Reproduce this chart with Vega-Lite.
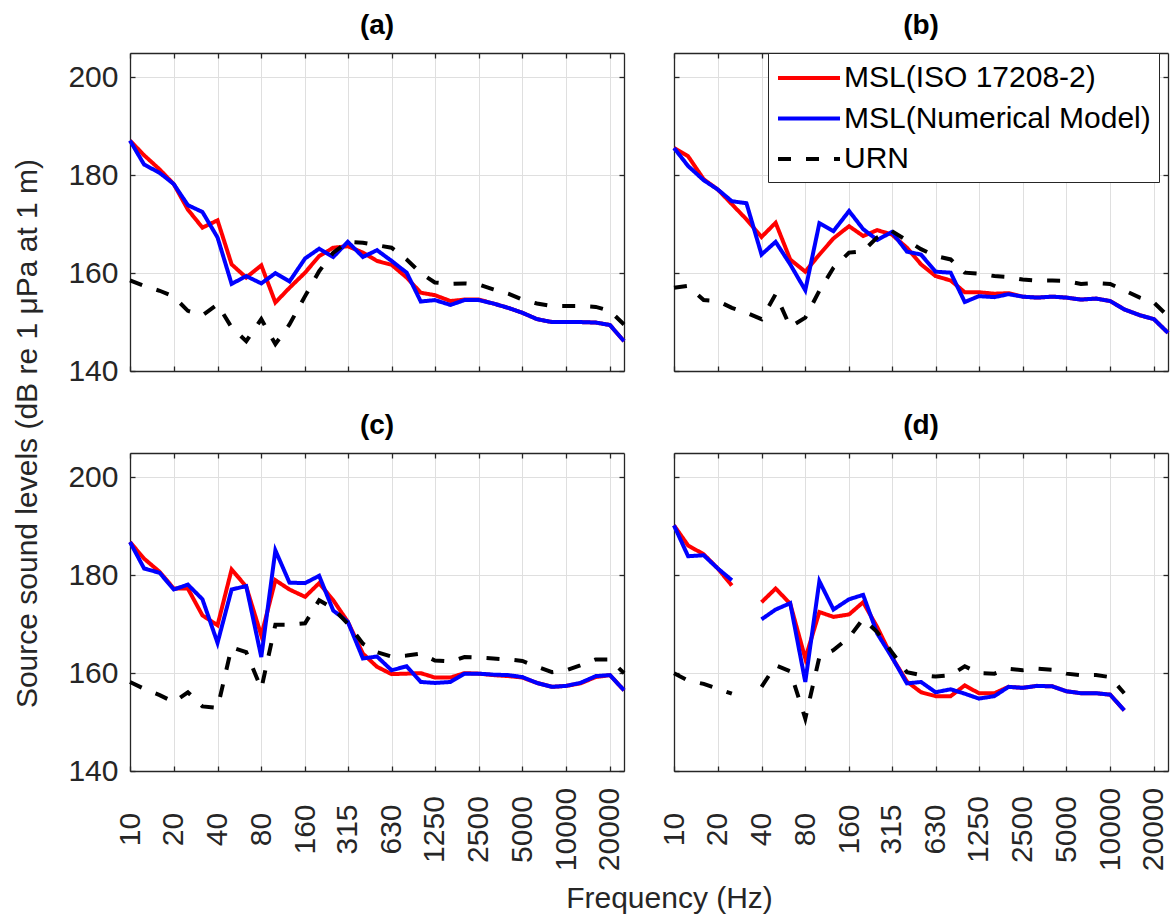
{
  "$schema": "https://vega.github.io/schema/vega-lite/v6.json",
  "background": "white",
  "padding": {"left": 11, "top": 12, "right": 4, "bottom": 4},
  "data": {"values": [
    {"panel":"a","freq":10,"iso":187.1,"model":187.1,"urn":158.5},
    {"panel":"a","freq":12.5,"iso":184.1,"model":182.2,"urn":157.4},
    {"panel":"a","freq":16,"iso":181.2,"model":180.5,"urn":156.4},
    {"panel":"a","freq":20,"iso":178.2,"model":178.2,"urn":155.2},
    {"panel":"a","freq":25,"iso":173.0,"model":173.9,"urn":152.3},
    {"panel":"a","freq":31.5,"iso":169.3,"model":172.5,"urn":151.4},
    {"panel":"a","freq":40,"iso":170.8,"model":167.3,"urn":153.6},
    {"panel":"a","freq":50,"iso":161.8,"model":157.8,"urn":148.9},
    {"panel":"a","freq":63,"iso":159.1,"model":159.4,"urn":146.1},
    {"panel":"a","freq":80,"iso":161.6,"model":157.9,"urn":150.6},
    {"panel":"a","freq":100,"iso":154.0,"model":160.0,"urn":145.5},
    {"panel":"a","freq":125,"iso":157.0,"model":158.3,"urn":149.5},
    {"panel":"a","freq":160,"iso":160.1,"model":163.0,"urn":155.3},
    {"panel":"a","freq":200,"iso":163.5,"model":165.0,"urn":160.4},
    {"panel":"a","freq":250,"iso":165.2,"model":163.3,"urn":164.2},
    {"panel":"a","freq":315,"iso":165.5,"model":166.4,"urn":166.4},
    {"panel":"a","freq":400,"iso":164.2,"model":163.3,"urn":166.2},
    {"panel":"a","freq":500,"iso":162.5,"model":164.7,"urn":165.7},
    {"panel":"a","freq":630,"iso":161.7,"model":162.5,"urn":165.2},
    {"panel":"a","freq":800,"iso":159.1,"model":160.1,"urn":162.8},
    {"panel":"a","freq":1000,"iso":156.0,"model":154.2,"urn":160.0},
    {"panel":"a","freq":1250,"iso":155.5,"model":154.5,"urn":158.1},
    {"panel":"a","freq":1600,"iso":154.3,"model":153.5,"urn":157.8},
    {"panel":"a","freq":2000,"iso":154.6,"model":154.5,"urn":157.9},
    {"panel":"a","freq":2500,"iso":154.6,"model":154.5,"urn":157.7},
    {"panel":"a","freq":3150,"iso":153.8,"model":153.8,"urn":156.7},
    {"panel":"a","freq":4000,"iso":152.9,"model":152.9,"urn":155.8},
    {"panel":"a","freq":5000,"iso":151.9,"model":151.9,"urn":154.6},
    {"panel":"a","freq":6300,"iso":150.6,"model":150.6,"urn":153.8},
    {"panel":"a","freq":8000,"iso":150.0,"model":150.0,"urn":153.3},
    {"panel":"a","freq":10000,"iso":150.0,"model":150.0,"urn":153.3},
    {"panel":"a","freq":12500,"iso":150.0,"model":150.0,"urn":153.3},
    {"panel":"a","freq":16000,"iso":149.9,"model":149.9,"urn":153.1},
    {"panel":"a","freq":20000,"iso":149.4,"model":149.4,"urn":152.3},
    {"panel":"a","freq":25000,"iso":146.1,"model":146.1,"urn":149.5},

    {"panel":"b","freq":10,"iso":185.6,"model":185.6,"urn":157.0},
    {"panel":"b","freq":12.5,"iso":183.9,"model":181.9,"urn":157.4},
    {"panel":"b","freq":16,"iso":179.2,"model":179.0,"urn":154.5},
    {"panel":"b","freq":20,"iso":177.1,"model":177.1,"urn":154.3},
    {"panel":"b","freq":25,"iso":174.1,"model":174.7,"urn":152.9},
    {"panel":"b","freq":31.5,"iso":171.0,"model":174.3,"urn":151.9},
    {"panel":"b","freq":40,"iso":167.4,"model":163.8,"urn":150.6},
    {"panel":"b","freq":50,"iso":170.3,"model":166.4,"urn":155.7},
    {"panel":"b","freq":63,"iso":162.8,"model":161.8,"urn":149.0},
    {"panel":"b","freq":80,"iso":160.3,"model":156.5,"urn":150.9},
    {"panel":"b","freq":100,"iso":163.8,"model":170.2,"urn":156.4},
    {"panel":"b","freq":125,"iso":167.1,"model":168.6,"urn":161.1},
    {"panel":"b","freq":160,"iso":169.6,"model":172.7,"urn":164.2},
    {"panel":"b","freq":200,"iso":167.6,"model":169.0,"urn":164.5},
    {"panel":"b","freq":250,"iso":168.8,"model":166.8,"urn":167.3},
    {"panel":"b","freq":315,"iso":167.9,"model":168.4,"urn":168.6},
    {"panel":"b","freq":400,"iso":165.2,"model":164.4,"urn":166.7},
    {"panel":"b","freq":500,"iso":161.8,"model":163.8,"urn":164.9},
    {"panel":"b","freq":630,"iso":159.4,"model":160.3,"urn":163.5},
    {"panel":"b","freq":800,"iso":158.5,"model":160.1,"urn":162.8},
    {"panel":"b","freq":1000,"iso":156.1,"model":154.1,"urn":160.1},
    {"panel":"b","freq":1250,"iso":156.1,"model":155.3,"urn":159.9},
    {"panel":"b","freq":1600,"iso":155.8,"model":155.1,"urn":159.4},
    {"panel":"b","freq":2000,"iso":155.9,"model":155.7,"urn":159.2},
    {"panel":"b","freq":2500,"iso":155.2,"model":155.2,"urn":158.7},
    {"panel":"b","freq":3150,"iso":155.0,"model":155.0,"urn":158.5},
    {"panel":"b","freq":4000,"iso":155.2,"model":155.2,"urn":158.5},
    {"panel":"b","freq":5000,"iso":155.0,"model":155.0,"urn":158.4},
    {"panel":"b","freq":6300,"iso":154.6,"model":154.6,"urn":157.8},
    {"panel":"b","freq":8000,"iso":154.8,"model":154.8,"urn":158.0},
    {"panel":"b","freq":10000,"iso":154.3,"model":154.3,"urn":157.8},
    {"panel":"b","freq":12500,"iso":152.6,"model":152.6,"urn":156.5},
    {"panel":"b","freq":16000,"iso":151.4,"model":151.4,"urn":155.0},
    {"panel":"b","freq":20000,"iso":150.6,"model":150.6,"urn":154.0},
    {"panel":"b","freq":25000,"iso":147.8,"model":147.8,"urn":151.2},

    {"panel":"c","freq":10,"iso":186.8,"model":186.8,"urn":158.2},
    {"panel":"c","freq":12.5,"iso":183.4,"model":181.4,"urn":156.8},
    {"panel":"c","freq":16,"iso":180.7,"model":180.5,"urn":155.5},
    {"panel":"c","freq":20,"iso":177.3,"model":177.1,"urn":154.1},
    {"panel":"c","freq":25,"iso":177.3,"model":178.1,"urn":156.1},
    {"panel":"c","freq":31.5,"iso":171.8,"model":175.1,"urn":153.2},
    {"panel":"c","freq":40,"iso":169.8,"model":166.2,"urn":152.9},
    {"panel":"c","freq":50,"iso":181.2,"model":177.1,"urn":165.3},
    {"panel":"c","freq":63,"iso":177.7,"model":177.8,"urn":164.3},
    {"panel":"c","freq":80,"iso":167.7,"model":163.3,"urn":156.8},
    {"panel":"c","freq":100,"iso":179.0,"model":185.1,"urn":169.9},
    {"panel":"c","freq":125,"iso":177.1,"model":178.5,"urn":169.9},
    {"panel":"c","freq":160,"iso":175.6,"model":178.4,"urn":170.2},
    {"panel":"c","freq":200,"iso":178.4,"model":179.9,"urn":174.9},
    {"panel":"c","freq":250,"iso":174.9,"model":172.8,"urn":173.2},
    {"panel":"c","freq":315,"iso":170.5,"model":170.5,"urn":170.1},
    {"panel":"c","freq":400,"iso":164.0,"model":163.0,"urn":166.0},
    {"panel":"c","freq":500,"iso":161.3,"model":163.4,"urn":164.3},
    {"panel":"c","freq":630,"iso":159.8,"model":160.6,"urn":163.4},
    {"panel":"c","freq":800,"iso":159.9,"model":161.4,"urn":163.6},
    {"panel":"c","freq":1000,"iso":160.0,"model":158.2,"urn":164.0},
    {"panel":"c","freq":1250,"iso":159.1,"model":158.0,"urn":162.6},
    {"panel":"c","freq":1600,"iso":159.1,"model":158.2,"urn":162.4},
    {"panel":"c","freq":2000,"iso":160.0,"model":159.9,"urn":163.3},
    {"panel":"c","freq":2500,"iso":159.9,"model":159.9,"urn":163.2},
    {"panel":"c","freq":3150,"iso":159.6,"model":159.7,"urn":163.0},
    {"panel":"c","freq":4000,"iso":159.4,"model":159.6,"urn":162.8},
    {"panel":"c","freq":5000,"iso":159.1,"model":159.2,"urn":162.5},
    {"panel":"c","freq":6300,"iso":158.0,"model":158.0,"urn":161.3},
    {"panel":"c","freq":8000,"iso":157.2,"model":157.2,"urn":160.2},
    {"panel":"c","freq":10000,"iso":157.4,"model":157.4,"urn":160.6},
    {"panel":"c","freq":12500,"iso":157.9,"model":158.0,"urn":161.6},
    {"panel":"c","freq":16000,"iso":159.2,"model":159.4,"urn":162.8},
    {"panel":"c","freq":20000,"iso":159.6,"model":159.6,"urn":162.8},
    {"panel":"c","freq":25000,"iso":156.5,"model":156.5,"urn":160.0},

    {"panel":"d","freq":10,"iso":190.2,"model":190.2,"urn":160.0},
    {"panel":"d","freq":12.5,"iso":186.1,"model":183.9,"urn":158.5},
    {"panel":"d","freq":16,"iso":184.3,"model":184.1,"urn":157.8},
    {"panel":"d","freq":20,"iso":181.4,"model":181.4,"urn":156.8},
    {"panel":"d","freq":25,"iso":177.9,"model":179.0,"urn":155.8},
    {"panel":"d","freq":31.5,"iso":null,"model":null,"urn":null},
    {"panel":"d","freq":40,"iso":174.5,"model":171.0,"urn":157.2},
    {"panel":"d","freq":50,"iso":177.3,"model":173.0,"urn":161.6},
    {"panel":"d","freq":63,"iso":174.2,"model":174.3,"urn":160.4},
    {"panel":"d","freq":80,"iso":163.0,"model":158.2,"urn":150.7},
    {"panel":"d","freq":100,"iso":172.5,"model":178.8,"urn":163.3},
    {"panel":"d","freq":125,"iso":171.5,"model":173.0,"urn":164.7},
    {"panel":"d","freq":160,"iso":172.0,"model":175.1,"urn":167.3},
    {"panel":"d","freq":200,"iso":174.5,"model":176.0,"urn":171.1},
    {"panel":"d","freq":250,"iso":169.4,"model":168.1,"urn":168.4},
    {"panel":"d","freq":315,"iso":163.3,"model":163.3,"urn":164.3},
    {"panel":"d","freq":400,"iso":158.3,"model":157.9,"urn":160.2},
    {"panel":"d","freq":500,"iso":156.1,"model":158.2,"urn":159.6},
    {"panel":"d","freq":630,"iso":155.3,"model":156.1,"urn":159.3},
    {"panel":"d","freq":800,"iso":155.3,"model":156.7,"urn":159.6},
    {"panel":"d","freq":1000,"iso":157.5,"model":155.8,"urn":161.4},
    {"panel":"d","freq":1250,"iso":155.9,"model":154.8,"urn":160.0},
    {"panel":"d","freq":1600,"iso":155.9,"model":155.3,"urn":159.9},
    {"panel":"d","freq":2000,"iso":157.2,"model":157.2,"urn":160.9},
    {"panel":"d","freq":2500,"iso":157.0,"model":157.0,"urn":160.6},
    {"panel":"d","freq":3150,"iso":157.4,"model":157.4,"urn":160.9},
    {"panel":"d","freq":4000,"iso":157.3,"model":157.3,"urn":160.7},
    {"panel":"d","freq":5000,"iso":156.3,"model":156.3,"urn":159.9},
    {"panel":"d","freq":6300,"iso":155.9,"model":155.9,"urn":159.6},
    {"panel":"d","freq":8000,"iso":155.9,"model":155.9,"urn":159.6},
    {"panel":"d","freq":10000,"iso":155.6,"model":155.6,"urn":159.2},
    {"panel":"d","freq":12500,"iso":152.4,"model":152.4,"urn":155.9},
    {"panel":"d","freq":16000,"iso":null,"model":null,"urn":null},
    {"panel":"d","freq":20000,"iso":null,"model":null,"urn":null},
    {"panel":"d","freq":25000,"iso":null,"model":null,"urn":null}
  ]},
  "columns": 2,
  "spacing": {"row": 82, "column": 50},
  "bounds": "flush",
  "resolve": {"legend": {"color": "independent", "strokeDash": "independent"}},
  "concat": [
    {
      "title": {"text": "(a)"},
      "width": 494, "height": 318,
      "transform": [{"filter": "datum.panel === 'a'"}, {"fold": ["iso", "model", "urn"], "as": ["series", "level"]}],
      "layer": [
        {
          "mark": {"type": "line", "strokeWidth": 4, "invalid": "break-paths-show-domains"},
          "encoding": {
            "x": {"field": "freq", "type": "quantitative", "scale": {"type": "log", "domain": [10, 25000], "nice": false},
                  "axis": {"orient": "bottom", "values": [10, 20, 40, 80, 160, 315, 630, 1250, 2500, 5000, 10000, 20000], "labels": false, "grid": true, "title": null}},
            "y": {"field": "level", "type": "quantitative", "scale": {"domain": [140, 205], "nice": false, "zero": false},
                  "axis": {"orient": "left", "values": [140, 160, 180, 200], "grid": true, "format": "d", "labelPadding": 17,
                           "title": "Source sound levels (dB re 1 μPa at 1 m)", "titleX": -94, "titleY": 380, "titleAngle": 270, "titleAlign": "center", "titleBaseline": "alphabetic"}},
            "color": {"field": "series", "type": "nominal", "scale": {"domain": ["iso", "model", "urn"], "range": ["#ff0000", "#0000ff", "#000000"]}, "legend": null},
            "strokeDash": {"field": "series", "type": "nominal", "scale": {"domain": ["iso", "model", "urn"], "range": [[1, 0], [1, 0], [13, 15]]}, "legend": null}
          }
        },
        {
          "mark": {"type": "line", "strokeOpacity": 0},
          "encoding": {
            "x": {"field": "freq", "type": "quantitative", "axis": {"orient": "top", "values": [10, 20, 40, 80, 160, 315, 630, 1250, 2500, 5000, 10000, 20000], "labels": false, "grid": false, "title": null}},
            "y": {"field": "level", "type": "quantitative", "axis": {"orient": "right", "values": [140, 160, 180, 200], "labels": false, "grid": false, "title": null}}
          }
        }
      ],
      "resolve": {"axis": {"x": "independent", "y": "independent"}}
    },
    {
      "title": {"text": "(b)"},
      "width": 494, "height": 318,
      "transform": [{"filter": "datum.panel === 'b'"}, {"fold": ["iso", "model", "urn"], "as": ["series", "level"]}],
      "layer": [
        {
          "mark": {"type": "line", "strokeWidth": 4, "invalid": "break-paths-show-domains"},
          "encoding": {
            "x": {"field": "freq", "type": "quantitative", "scale": {"type": "log", "domain": [10, 25000], "nice": false},
                  "axis": {"orient": "bottom", "values": [10, 20, 40, 80, 160, 315, 630, 1250, 2500, 5000, 10000, 20000], "labels": false, "grid": true, "title": null}},
            "y": {"field": "level", "type": "quantitative", "scale": {"domain": [140, 205], "nice": false, "zero": false},
                  "axis": {"orient": "left", "values": [140, 160, 180, 200], "grid": true, "labels": false, "title": null}},
            "color": {"field": "series", "type": "nominal", "scale": {"domain": ["iso", "model", "urn"], "range": ["#ff0000", "#0000ff", "#000000"]},
                      "legend": {"orient": "none", "legendX": 94, "legendY": 0, "title": null, "symbolType": "M-1,0H3.133", "symbolSize": 900, "symbolStrokeWidth": 4,
                                 "labelFontSize": 30, "labelColor": "#000000", "labelOffset": 34, "labelLimit": 0, "padding": 8, "rowPadding": 8.5,
                                 "strokeColor": "#262626", "fillColor": "#ffffff", "cornerRadius": 0,
                                 "labelExpr": "datum.label === 'iso' ? 'MSL(ISO 17208-2)' : datum.label === 'model' ? 'MSL(Numerical Model)' : 'URN'"}},
            "strokeDash": {"field": "series", "type": "nominal", "scale": {"domain": ["iso", "model", "urn"], "range": [[1, 0], [1, 0], [13, 15]]},
                      "legend": {"orient": "none", "legendX": 94, "legendY": 0, "title": null, "symbolType": "M-1,0H3.133", "symbolSize": 900, "symbolStrokeWidth": 4,
                                 "labelFontSize": 30, "labelColor": "#000000", "labelOffset": 34, "labelLimit": 0, "padding": 8, "rowPadding": 8.5,
                                 "strokeColor": "#262626", "fillColor": "#ffffff", "cornerRadius": 0,
                                 "labelExpr": "datum.label === 'iso' ? 'MSL(ISO 17208-2)' : datum.label === 'model' ? 'MSL(Numerical Model)' : 'URN'"}}
          }
        },
        {
          "mark": {"type": "line", "strokeOpacity": 0},
          "encoding": {
            "x": {"field": "freq", "type": "quantitative", "axis": {"orient": "top", "values": [10, 20, 40, 80, 160, 315, 630, 1250, 2500, 5000, 10000, 20000], "labels": false, "grid": false, "title": null}},
            "y": {"field": "level", "type": "quantitative", "axis": {"orient": "right", "values": [140, 160, 180, 200], "labels": false, "grid": false, "title": null}}
          }
        }
      ],
      "resolve": {"axis": {"x": "independent", "y": "independent"}}
    },
    {
      "title": {"text": "(c)"},
      "width": 494, "height": 318,
      "transform": [{"filter": "datum.panel === 'c'"}, {"fold": ["iso", "model", "urn"], "as": ["series", "level"]}],
      "layer": [
        {
          "mark": {"type": "line", "strokeWidth": 4, "invalid": "break-paths-show-domains"},
          "encoding": {
            "x": {"field": "freq", "type": "quantitative", "scale": {"type": "log", "domain": [10, 25000], "nice": false},
                  "axis": {"orient": "bottom", "values": [10, 20, 40, 80, 160, 315, 630, 1250, 2500, 5000, 10000, 20000], "format": "d", "grid": true,
                           "labelAngle": 270, "labelAlign": "center", "labelBaseline": "middle", "labelPadding": 63, "labelOverlap": false, "labelFlush": false, "labelBound": false,
                           "title": "Frequency (Hz)", "titleX": 539, "titleY": 136, "titleAlign": "center", "titleBaseline": "alphabetic"}},
            "y": {"field": "level", "type": "quantitative", "scale": {"domain": [140, 205], "nice": false, "zero": false},
                  "axis": {"orient": "left", "values": [140, 160, 180, 200], "grid": true, "format": "d", "labelPadding": 17, "title": null}},
            "color": {"field": "series", "type": "nominal", "scale": {"domain": ["iso", "model", "urn"], "range": ["#ff0000", "#0000ff", "#000000"]}, "legend": null},
            "strokeDash": {"field": "series", "type": "nominal", "scale": {"domain": ["iso", "model", "urn"], "range": [[1, 0], [1, 0], [13, 15]]}, "legend": null}
          }
        },
        {
          "mark": {"type": "line", "strokeOpacity": 0},
          "encoding": {
            "x": {"field": "freq", "type": "quantitative", "axis": {"orient": "top", "values": [10, 20, 40, 80, 160, 315, 630, 1250, 2500, 5000, 10000, 20000], "labels": false, "grid": false, "title": null}},
            "y": {"field": "level", "type": "quantitative", "axis": {"orient": "right", "values": [140, 160, 180, 200], "labels": false, "grid": false, "title": null}}
          }
        }
      ],
      "resolve": {"axis": {"x": "independent", "y": "independent"}}
    },
    {
      "title": {"text": "(d)"},
      "width": 494, "height": 318,
      "transform": [{"filter": "datum.panel === 'd'"}, {"fold": ["iso", "model", "urn"], "as": ["series", "level"]}],
      "layer": [
        {
          "mark": {"type": "line", "strokeWidth": 4, "invalid": "break-paths-show-domains"},
          "encoding": {
            "x": {"field": "freq", "type": "quantitative", "scale": {"type": "log", "domain": [10, 25000], "nice": false},
                  "axis": {"orient": "bottom", "values": [10, 20, 40, 80, 160, 315, 630, 1250, 2500, 5000, 10000, 20000], "format": "d", "grid": true,
                           "labelAngle": 270, "labelAlign": "center", "labelBaseline": "middle", "labelPadding": 63, "labelOverlap": false, "labelFlush": false, "labelBound": false,
                           "title": null}},
            "y": {"field": "level", "type": "quantitative", "scale": {"domain": [140, 205], "nice": false, "zero": false},
                  "axis": {"orient": "left", "values": [140, 160, 180, 200], "grid": true, "labels": false, "title": null}},
            "color": {"field": "series", "type": "nominal", "scale": {"domain": ["iso", "model", "urn"], "range": ["#ff0000", "#0000ff", "#000000"]}, "legend": null},
            "strokeDash": {"field": "series", "type": "nominal", "scale": {"domain": ["iso", "model", "urn"], "range": [[1, 0], [1, 0], [13, 15]]}, "legend": null}
          }
        },
        {
          "mark": {"type": "line", "strokeOpacity": 0},
          "encoding": {
            "x": {"field": "freq", "type": "quantitative", "axis": {"orient": "top", "values": [10, 20, 40, 80, 160, 315, 630, 1250, 2500, 5000, 10000, 20000], "labels": false, "grid": false, "title": null}},
            "y": {"field": "level", "type": "quantitative", "axis": {"orient": "right", "values": [140, 160, 180, 200], "labels": false, "grid": false, "title": null}}
          }
        }
      ],
      "resolve": {"axis": {"x": "independent", "y": "independent"}}
    }
  ],
  "config": {
    "font": "Liberation Sans",
    "view": {"stroke": null},
    "axis": {
      "labelFont": "Liberation Sans", "labelFontSize": 30, "labelColor": "#262626",
      "titleFont": "Liberation Sans", "titleFontSize": 30, "titleFontWeight": "normal", "titleColor": "#262626",
      "domainColor": "#262626", "domainWidth": 1.3,
      "tickColor": "#262626", "tickWidth": 1.3, "tickSize": -5,
      "gridColor": "#dfdfdf", "gridWidth": 1
    },
    "legend": {"labelFont": "Liberation Sans"},
    "title": {"font": "Liberation Sans", "fontSize": 28, "fontWeight": "bold", "color": "#000000", "offset": 12, "anchor": "middle", "frame": "group"}
  }
}
